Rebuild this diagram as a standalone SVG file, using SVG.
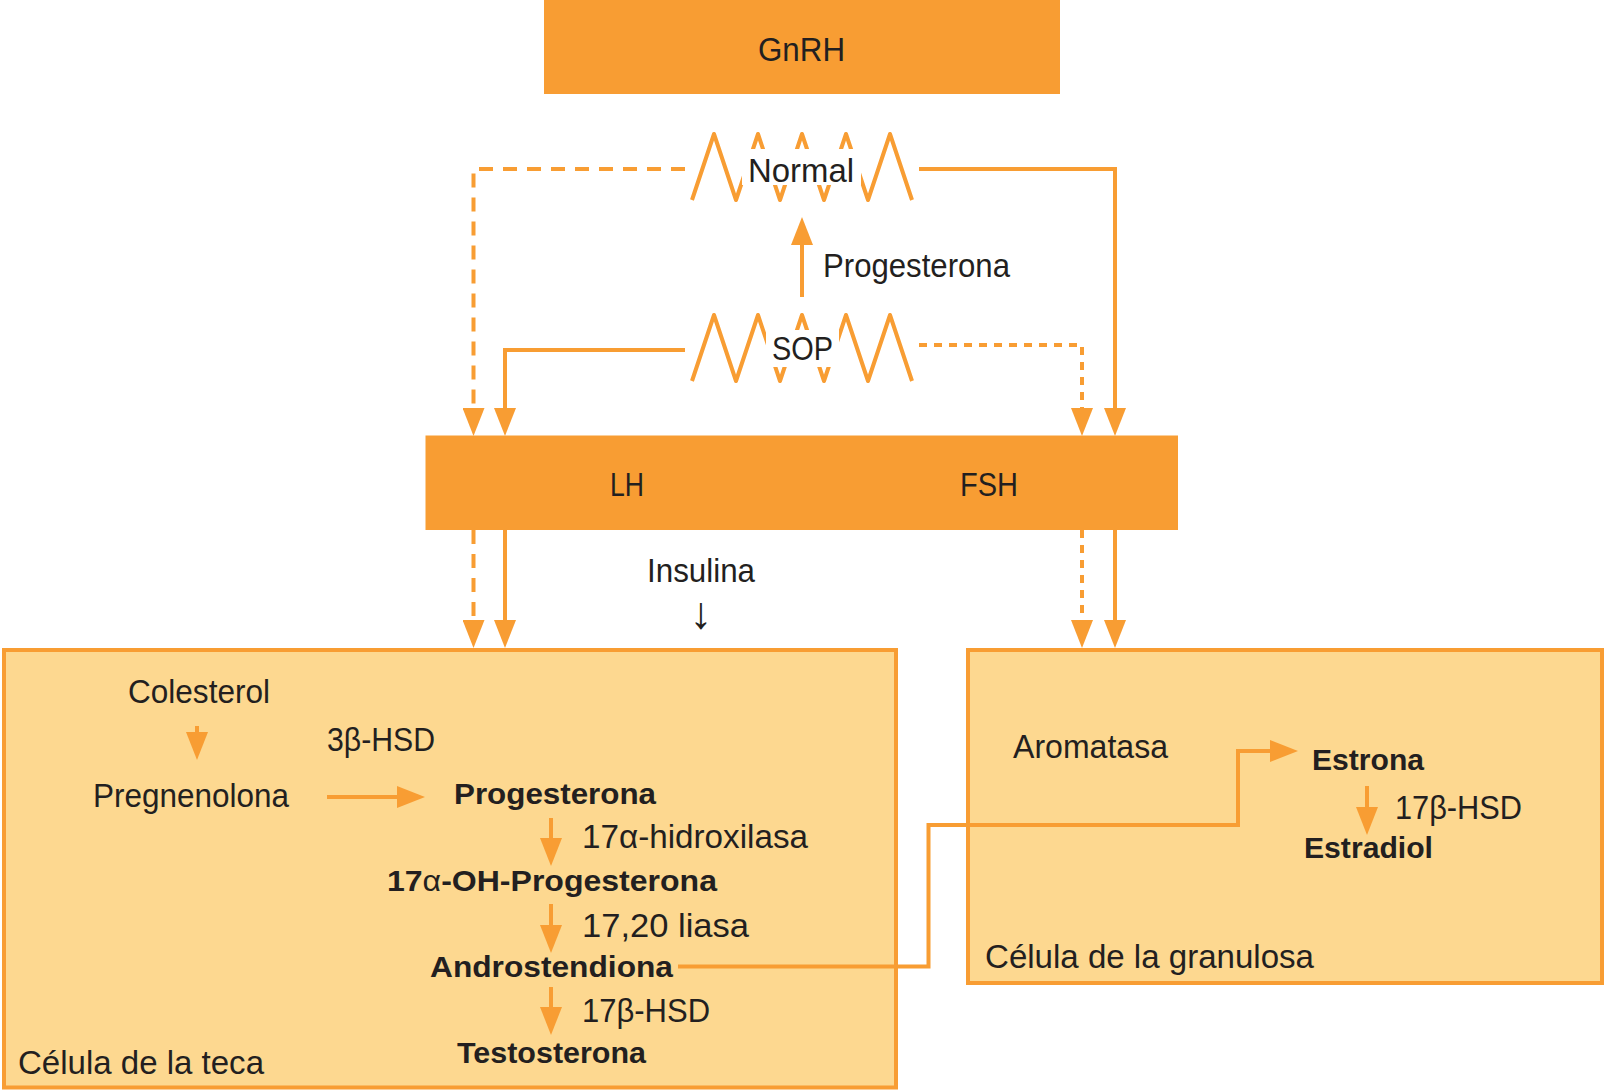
<svg xmlns="http://www.w3.org/2000/svg" width="1607" height="1091" viewBox="0 0 1607 1091">
<style>
.box{fill:#F89D33}
.cell{fill:#FDD890;stroke:#F89D33;stroke-width:4}
.t{font-family:"Liberation Sans",Arial,sans-serif;font-size:34px;fill:#231F20}
.b{font-family:"Liberation Sans",Arial,sans-serif;font-size:30px;font-weight:bold;fill:#231F20}
.ln{fill:none;stroke:#F89D33;stroke-width:4}
.ar{marker-end:url(#ah)}
.dash{stroke-dasharray:14 10}
.dot{stroke-dasharray:8 7}
.wave{fill:none;stroke:#F89D33;stroke-width:4;stroke-linejoin:round}
.mask{fill:#fff}
</style>
<defs>
<marker id="ah" markerUnits="userSpaceOnUse" markerWidth="28" markerHeight="22" refX="14" refY="11" orient="auto">
<path d="M0,0 L28,11 L0,22 Z" fill="#F89D33"/>
</marker>
</defs>
<rect width="1607" height="1091" fill="#fff"/>

<g id="gnrh">
<rect class="box" x="544" y="0" width="516" height="94"/>
<text class="t" x="758" y="61" textLength="87" lengthAdjust="spacingAndGlyphs">GnRH</text>
</g>

<g id="normal">
<polyline class="wave" points="692,200 714,134 736,200 758,134 780,200 802,134 824,200 846,134 868,200 890,134 912,200"/>
<rect class="mask" x="742" y="149" width="119" height="36"/>
<text class="t" x="748" y="182" textLength="106" lengthAdjust="spacingAndGlyphs">Normal</text>
</g>

<g id="sop">
<polyline class="wave" points="692,381 714,315 736,381 758,315 780,381 802,315 824,381 846,315 868,381 890,315 912,381"/>
<rect class="mask" x="766" y="330" width="73" height="37"/>
<text class="t" x="772" y="360" textLength="61" lengthAdjust="spacingAndGlyphs">SOP</text>
</g>

<g id="progesterona-label">
<text class="t" x="823" y="277" textLength="187" lengthAdjust="spacingAndGlyphs">Progesterona</text>
</g>

<g id="lhfsh">
<rect class="box" x="425.5" y="435.5" width="752.5" height="94.5"/>
<text class="t" x="610" y="496" textLength="34" lengthAdjust="spacingAndGlyphs">LH</text>
<text class="t" x="960" y="496" textLength="58" lengthAdjust="spacingAndGlyphs">FSH</text>
</g>

<g id="insulina">
<text class="t" x="647" y="582" textLength="108" lengthAdjust="spacingAndGlyphs">Insulina</text>
<text class="t" x="701" y="628" text-anchor="middle" style="font-size:45px">↓</text>
</g>

<g id="teca">
<rect class="cell" x="4" y="650" width="892" height="437.5"/>
<text class="t" x="128" y="703" textLength="142" lengthAdjust="spacingAndGlyphs">Colesterol</text>
<text class="t" x="327" y="751" textLength="108" lengthAdjust="spacingAndGlyphs">3β-HSD</text>
<text class="t" x="93" y="807" textLength="196" lengthAdjust="spacingAndGlyphs">Pregnenolona</text>
<text class="b" x="454" y="804" textLength="202" lengthAdjust="spacingAndGlyphs">Progesterona</text>
<text class="t" x="582" y="848" textLength="226" lengthAdjust="spacingAndGlyphs">17α-hidroxilasa</text>
<text class="b" x="387" y="891" textLength="330" lengthAdjust="spacingAndGlyphs">17<tspan font-weight="normal">α</tspan>-OH-Progesterona</text>
<text class="t" x="582" y="937" textLength="167" lengthAdjust="spacingAndGlyphs">17,20 liasa</text>
<text class="b" x="430" y="977" textLength="243" lengthAdjust="spacingAndGlyphs">Androstendiona</text>
<text class="t" x="582" y="1022" textLength="128" lengthAdjust="spacingAndGlyphs">17β-HSD</text>
<text class="b" x="457" y="1063" textLength="189" lengthAdjust="spacingAndGlyphs">Testosterona</text>
<text class="t" x="18" y="1074" textLength="246" lengthAdjust="spacingAndGlyphs">Célula de la teca</text>
</g>

<g id="granulosa">
<rect class="cell" x="968" y="650" width="634" height="333"/>
<text class="t" x="1013" y="758" textLength="155" lengthAdjust="spacingAndGlyphs">Aromatasa</text>
<text class="b" x="1312" y="770" textLength="112" lengthAdjust="spacingAndGlyphs">Estrona</text>
<text class="t" x="1395" y="819" textLength="127" lengthAdjust="spacingAndGlyphs">17β-HSD</text>
<text class="b" x="1304" y="858" textLength="129" lengthAdjust="spacingAndGlyphs">Estradiol</text>
<text class="t" x="985" y="968" textLength="329" lengthAdjust="spacingAndGlyphs">Célula de la granulosa</text>
</g>

<g id="connectors">
<path class="ln ar dash" d="M685,169 H473.5 V422"/>
<path class="ln ar" d="M919,169 H1115 V422"/>
<path class="ln ar" d="M685,350 H505 V422"/>
<path class="ln ar dot" d="M919,345 H1082 V422"/>
<path class="ln ar dash" d="M473.5,530 V634"/>
<path class="ln ar" d="M505,530 V634"/>
<path class="ln ar dot" d="M1082,530 V634"/>
<path class="ln ar" d="M1115,530 V634"/>
<path class="ln ar" d="M802,297 V231"/>
<path class="ln ar" d="M197,726 V746"/>
<path class="ln ar" d="M327,797 H411"/>
<path class="ln ar" d="M551,818 V852"/>
<path class="ln ar" d="M551,904 V939"/>
<path class="ln ar" d="M551,987 V1021"/>
<path class="ln ar" d="M678,966.5 H928.5 V825 H1238 V751 H1284"/>
<path class="ln ar" d="M1367,786 V821"/>
</g>
</svg>
